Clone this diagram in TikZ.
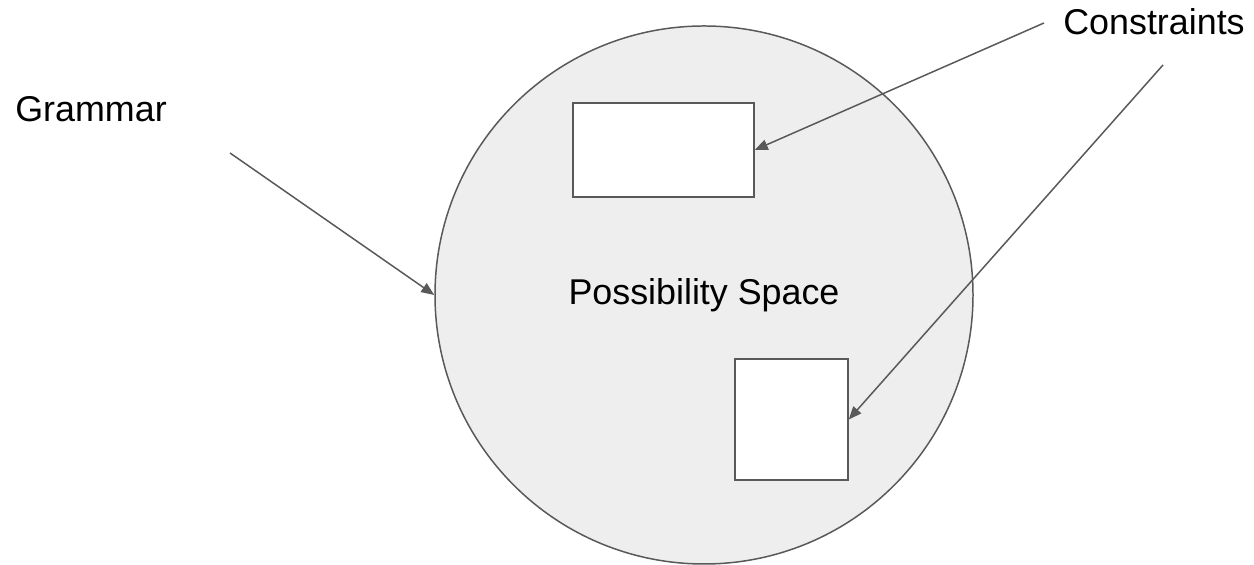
\documentclass[tikz,border=0pt]{standalone}
\usepackage{fontspec}
\setmainfont{Liberation Sans}
\usepackage{tikz}
\usetikzlibrary{arrows.meta,positioning}
\usepackage{xcolor}
\definecolor{pline}{RGB}{89,89,89}
\definecolor{pfill}{RGB}{238,238,238}

\begin{document}
\begin{tikzpicture}[
    space/.style={circle, draw=pline, fill=pfill, line width=0.85pt, minimum size=10.76cm, inner sep=0pt, font=\fontsize{20.4}{24}\selectfont},
    region/.style={rectangle, draw=pline, fill=white, line width=0.85pt, inner sep=0pt},
    label/.style={inner sep=0pt, anchor=base west, font=\fontsize{20.4}{24}\selectfont},
    link/.style={-{Triangle[length=2.6mm, width=2.1mm]}, line width=0.85pt, pline}
]
\useasboundingbox (0,0) rectangle (25.08,11.30);

% Possibility space with two constrained regions
\node[space] (ps) at (14.08, 5.40) {Possibility Space};
\node[region, minimum width=3.62cm, minimum height=1.88cm] (r1) at (13.27, 8.30) {};
\node[region, minimum width=2.26cm, minimum height=2.42cm] (r2) at (15.83, 2.91) {};

% Labels
\node[label] (gram) at (0.30, 8.86) {Grammar};
\node[label] (cons) at (21.26, 10.60) {Constraints};

% Arrows
\coordinate (g0) at (4.60, 8.24);
\coordinate (c1) at (20.88, 10.84);
\coordinate (c2) at (23.26, 10.00);

\draw[link] (g0) -- (ps.west);
\draw[link] (c1) -- (r1.east);
\draw[link] (c2) -- (r2.east);

\end{tikzpicture}
\end{document}
